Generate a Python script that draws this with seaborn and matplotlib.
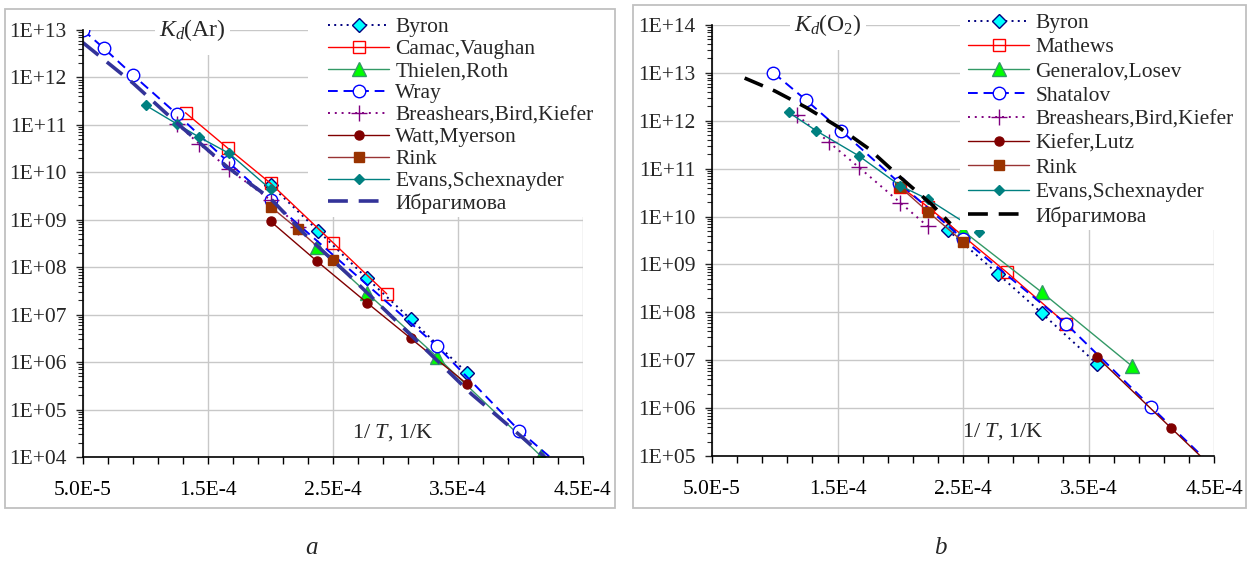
import numpy as np
import matplotlib
matplotlib.use("Agg")
import matplotlib.pyplot as plt
import seaborn as sns
from matplotlib.ticker import MultipleLocator, FuncFormatter, LogLocator, NullFormatter
from matplotlib.patches import Rectangle

sns.set_style("white")
plt.rcParams['font.family'] = ['Liberation Serif', 'DejaVu Serif']
plt.rcParams['mathtext.fontset'] = 'custom'
plt.rcParams['mathtext.rm'] = 'Liberation Serif'
plt.rcParams['mathtext.it'] = 'Liberation Serif:italic'

# ---------------- data: panel a, Kd(Ar) ----------------
ar_byron_x = [2.00e-4, 2.38e-4, 2.77e-4, 3.12e-4, 3.57e-4]
ar_byron_k = [5.4e9, 5.9e8, 5.9e7, 8.1e6, 6.0e5]
ar_camac_x = [1.32e-4, 1.66e-4, 2.00e-4, 2.50e-4, 2.93e-4]
ar_camac_k = [1.8e11, 3.2e10, 5.9e9, 3.3e8, 2.75e7]
ar_thielen_x = [2.37e-4, 2.77e-4, 3.33e-4, 4.16e-4]
ar_thielen_k = [2.7e8, 2.9e7, 1.3e6, 1.07e4]
ar_wray_x = [5.0e-5, 6.68e-5, 9.0e-5, 1.25e-4, 1.66e-4, 2.00e-4, 3.33e-4, 3.99e-4, 4.5e-4]
ar_wray_k = [1.0e13, 4.1e12, 1.12e12, 1.7e11, 1.66e10, 2.6e9, 2.2e6, 3.6e4, 2.5e3]
ar_breas_x = [1.25e-4, 1.43e-4, 1.67e-4, 2.00e-4, 2.22e-4]
ar_breas_k = [1.05e11, 4.0e10, 1.15e10, 2.6e9, 7.2e8]
ar_watt_x = [2.00e-4, 2.37e-4, 2.77e-4, 3.12e-4, 3.57e-4]
ar_watt_k = [9.3e8, 1.35e8, 1.8e7, 3.2e6, 3.5e5]
ar_rink_x = [2.00e-4, 2.22e-4, 2.50e-4]
ar_rink_k = [1.9e9, 6.3e8, 1.4e8]
ar_evans_x = [1.00e-4, 1.25e-4, 1.43e-4, 1.67e-4, 2.00e-4]
ar_evans_k = [2.6e11, 1.05e11, 5.5e10, 2.5e10, 4.4e9]
ar_ibr_x = [5.0e-5, 9.0e-5, 1.25e-4, 1.66e-4, 2.0e-4, 2.29e-4, 2.62e-4, 3.33e-4, 3.61e-4, 4.0e-4, 4.3e-4]
ar_ibr_k = [5.4e12, 7.6e11, 1.1e11, 1.26e10, 2.8e9, 4.5e8, 7.1e7, 1.1e6, 2.1e5, 2.8e4, 5.6e3]

# ---------------- data: panel b, Kd(O2) ----------------
o2_byron_x = [2.38e-4, 2.78e-4, 3.13e-4, 3.57e-4]
o2_byron_k = [5.2e9, 6.3e8, 9.5e7, 8.3e6]
o2_math_x = [2.00e-4, 2.22e-4, 2.85e-4, 3.32e-4]
o2_math_k = [4.2e10, 1.6e10, 6.8e8, 5.8e7]
o2_gen_x = [2.50e-4, 3.13e-4, 3.85e-4]
o2_gen_k = [5.0e9, 2.6e8, 7.4e6]
o2_shat_x = [9.9e-5, 1.25e-4, 1.53e-4, 1.99e-4, 2.50e-4, 3.32e-4, 4.00e-4, 4.6e-4]
o2_shat_k = [1.0e13, 2.7e12, 6.2e11, 5.1e10, 3.4e9, 5.8e7, 1.05e6, 3.2e4]
o2_breas_x = [1.18e-4, 1.43e-4, 1.67e-4, 2.00e-4, 2.22e-4]
o2_breas_k = [1.3e12, 3.6e11, 1.07e11, 1.95e10, 6.2e9]
o2_kief_x = [3.57e-4, 4.16e-4, 4.6e-4]
o2_kief_k = [1.15e7, 3.8e5, 3.0e4]
o2_rink_x = [2.00e-4, 2.22e-4, 2.50e-4]
o2_rink_k = [4.1e10, 1.26e10, 3.0e9]
o2_evans_x = [1.11e-4, 1.33e-4, 1.67e-4, 2.00e-4, 2.22e-4, 2.48e-4]
o2_evans_k = [1.5e12, 6.2e11, 1.85e11, 4.4e10, 2.3e10, 8.5e9]
o2_evans_extra_x = [2.63e-4]
o2_evans_extra_k = [4.7e9]
o2_ibr_x = [7.6e-5, 1.0e-4, 1.25e-4, 1.5e-4, 1.75e-4, 2.0e-4, 2.25e-4, 2.4e-4]
o2_ibr_k = [7.8e12, 4.2e12, 1.9e12, 7.6e11, 2.6e11, 6.6e10, 1.8e10, 7.1e9]

# ---------------- styles ----------------
S_BYRON = dict(color='#000080', linestyle=(0, (1, 2.2)), linewidth=1.4, marker='D', markersize=7.5,
               markerfacecolor='#00FFFF', markeredgecolor='#000080', markeredgewidth=1.0)
S_OPENSQ = dict(color='#FF0000', linestyle='-', linewidth=1.0, marker='s', markersize=8.5,
                markerfacecolor='none', markeredgecolor='#FF0000', markeredgewidth=1.0)
S_TRI = dict(color='#339966', linestyle='-', linewidth=1.0, marker='^', markersize=10,
             markerfacecolor='#00FF00', markeredgecolor='#339966', markeredgewidth=1.0)
S_CIRC = dict(color='#0000FF', linestyle=(0, (5, 3)), linewidth=1.4, marker='o', markersize=9,
              markerfacecolor='white', markeredgecolor='#0000FF', markeredgewidth=1.0)
S_PLUS = dict(color='#800080', linestyle=(0, (1, 2.5)), linewidth=1.4, marker='+', markersize=12,
              markerfacecolor='#800080', markeredgecolor='#800080', markeredgewidth=1.0)
S_DOT = dict(color='#800000', linestyle='-', linewidth=1.0, marker='o', markersize=6.5,
             markerfacecolor='#800000', markeredgecolor='#800000', markeredgewidth=1.0)
S_RINK = dict(color='#993333', linestyle='-', linewidth=1.0, marker='s', markersize=6.5,
              markerfacecolor='#993300', markeredgecolor='#993300', markeredgewidth=1.0)
S_EVANS = dict(color='#008080', linestyle='-', linewidth=1.0, marker='D', markersize=5.5,
               markerfacecolor='#008080', markeredgecolor='#008080', markeredgewidth=1.0)
S_IBR_A = dict(color='#333399', linestyle=(0, (5.5, 3)), linewidth=2.6, marker=None)
S_IBR_B = dict(color='#000000', linestyle=(0, (5.5, 3)), linewidth=2.6, marker=None)

FS = 15.5
W, H = 1253, 564

fig = plt.figure(figsize=(W / 100, H / 100), dpi=100)


def fx(px):
    return px / W


def fy(py):
    return 1 - py / H


def xfmt(v, pos):
    if v <= 0:
        return ''
    e = int(np.floor(np.log10(v) + 1e-9))
    m = v / 10 ** e
    return f"{m:.1f}E{e:+d}".replace('+', '')


def yfmt(v, pos):
    e = int(round(np.log10(v)))
    sign = '+' if e >= 0 else '-'
    return f"1E{sign}{abs(e):02d}"


def setup(ax, ylo, yhi):
    ax.set_yscale('log')
    ax.set_xlim(5e-5, 4.5e-4)
    ax.set_ylim(ylo, yhi)
    ax.xaxis.set_major_locator(MultipleLocator(1e-4, offset=5e-5))
    ax.xaxis.set_minor_locator(MultipleLocator(2e-5, offset=1e-5))
    ax.xaxis.set_major_formatter(FuncFormatter(xfmt))
    ax.yaxis.set_major_locator(LogLocator(base=10, numticks=30))
    ax.yaxis.set_minor_locator(LogLocator(base=10, subs=np.arange(2, 10), numticks=30))
    ax.yaxis.set_major_formatter(FuncFormatter(yfmt))
    ax.yaxis.set_minor_formatter(NullFormatter())
    ax.grid(True, which='major', color='#c8c8c8', linewidth=1.0)
    ax.set_axisbelow(True)
    for s in ['top', 'right']:
        ax.spines[s].set_visible(False)
    for s in ['left', 'bottom']:
        ax.spines[s].set_color('black')
        ax.spines[s].set_linewidth(1.2)
    ax.tick_params(axis='x', which='both', direction='out', length=5, width=1, pad=12,
                   labelsize=FS, bottom=True, colors='black')
    ax.tick_params(axis='y', which='major', direction='out', length=5, width=1, pad=7,
                   labelsize=FS, left=True)
    ax.tick_params(axis='y', which='minor', direction='out', length=3.5, width=0.8, left=True)
    ax.set_xlabel('')
    ax.set_ylabel('')


def line(ax, x, k, style, label):
    sns.lineplot(x=x, y=k, ax=ax, sort=False, estimator=None, label=label, **style)


# ---------------- panel a ----------------
ax1 = fig.add_axes([fx(83), fy(457), fx(583) - fx(83), fy(30) - fy(457)])
setup(ax1, 1e4, 1e13)
line(ax1, ar_byron_x, ar_byron_k, S_BYRON, 'Byron')
line(ax1, ar_camac_x, ar_camac_k, S_OPENSQ, 'Camac,Vaughan')
line(ax1, ar_thielen_x, ar_thielen_k, S_TRI, 'Thielen,Roth')
line(ax1, ar_wray_x, ar_wray_k, S_CIRC, 'Wray')
line(ax1, ar_breas_x, ar_breas_k, S_PLUS, 'Breashears,Bird,Kiefer')
line(ax1, ar_watt_x, ar_watt_k, S_DOT, 'Watt,Myerson')
line(ax1, ar_rink_x, ar_rink_k, S_RINK, 'Rink')
line(ax1, ar_evans_x, ar_evans_k, S_EVANS, 'Evans,Schexnayder')
line(ax1, ar_ibr_x, ar_ibr_k, S_IBR_A, 'Ибрагимова')
setup(ax1, 1e4, 1e13)
h1, l1 = ax1.get_legend_handles_labels()
ax1.get_legend().remove()

# ---------------- panel b ----------------
ax2 = fig.add_axes([fx(712), fy(456), fx(1214) - fx(712), fy(25) - fy(456)])
setup(ax2, 1e5, 1e14)
line(ax2, o2_byron_x, o2_byron_k, S_BYRON, 'Byron')
line(ax2, o2_math_x, o2_math_k, S_OPENSQ, 'Mathews')
line(ax2, o2_gen_x, o2_gen_k, S_TRI, 'Generalov,Losev')
line(ax2, o2_shat_x, o2_shat_k, S_CIRC, 'Shatalov')
line(ax2, o2_breas_x, o2_breas_k, S_PLUS, 'Breashears,Bird,Kiefer')
line(ax2, o2_kief_x, o2_kief_k, S_DOT, 'Kiefer,Lutz')
line(ax2, o2_rink_x, o2_rink_k, S_RINK, 'Rink')
sns.lineplot(x=o2_evans_x, y=o2_evans_k, ax=ax2, sort=False, estimator=None,
             label='Evans,Schexnayder', markevery=list(range(len(o2_evans_x) - 1)), **S_EVANS)
sns.lineplot(x=o2_evans_extra_x, y=o2_evans_extra_k, ax=ax2, sort=False, estimator=None,
             label='_nolegend_', **S_EVANS)
line(ax2, o2_ibr_x, o2_ibr_k, S_IBR_B, 'Ибрагимова')
setup(ax2, 1e5, 1e14)
h2, l2 = ax2.get_legend_handles_labels()
ax2.get_legend().remove()

# titles with white boxes
for ax, x0, x1, y0, y1, tx, txt in [
        (ax1, 155, 230, 55, 14, 192, r'$K_d$(Ar)'),
        (ax2, 790, 866, 50, 10, 828, r'$K_d$(O$_2$)')]:
    bb = ax.get_position()
    def afx(px, bb=bb):
        return (fx(px) - bb.x0) / bb.width
    def afy(py, bb=bb):
        return (fy(py) - bb.y0) / bb.height
    ax.add_patch(Rectangle((afx(x0), afy(y0)), afx(x1) - afx(x0), afy(y1) - afy(y0),
                           transform=ax.transAxes, facecolor='white', edgecolor='none',
                           zorder=1.5, clip_on=False))
    ax.text(afx(tx), 1.0, txt, transform=ax.transAxes, ha='center', va='center',
            fontsize=17, zorder=3)

ax1.text(0.62, 0.058, '1/ $T$, 1/K', transform=ax1.transAxes, ha='center', va='center', fontsize=16)
ax2.text(0.58, 0.056, '1/ $T$, 1/K', transform=ax2.transAxes, ha='center', va='center', fontsize=16)

# legend backgrounds and legends
fig.patches.append(Rectangle((fx(308), fy(217)), fx(615) - fx(308), fy(10) - fy(217),
                             transform=fig.transFigure, facecolor='white', edgecolor='none', zorder=1))
fig.patches.append(Rectangle((fx(960), fy(230)), fx(1246) - fx(960), fy(5) - fy(230),
                             transform=fig.transFigure, facecolor='white', edgecolor='none', zorder=1))

fig.legend(h1, l1, loc='upper left', bbox_to_anchor=(fx(328), fy(17)), bbox_transform=fig.transFigure,
           frameon=False, fontsize=FS, handlelength=2.85, handletextpad=0.27, labelspacing=0.09,
           borderpad=0, borderaxespad=0)
fig.legend(h2, l2, loc='upper left', bbox_to_anchor=(fx(968), fy(13)), bbox_transform=fig.transFigure,
           frameon=False, fontsize=FS, handlelength=2.85, handletextpad=0.27, labelspacing=0.19,
           borderpad=0, borderaxespad=0)

# panel borders
fig.patches.append(Rectangle((fx(5), fy(508)), fx(615) - fx(5), fy(9) - fy(508),
                             transform=fig.transFigure, fill=False, edgecolor='#c0c0c0', linewidth=1.3, zorder=2))
fig.patches.append(Rectangle((fx(633), fy(508)), fx(1246) - fx(633), fy(5) - fy(508),
                             transform=fig.transFigure, fill=False, edgecolor='#c0c0c0', linewidth=1.3, zorder=2))

fig.text(fx(311), fy(548), 'a', ha='center', va='center', fontsize=18, style='italic')
fig.text(fx(940), fy(548), 'b', ha='center', va='center', fontsize=18, style='italic')

fig.savefig('out.png', dpi=100, facecolor='white')
